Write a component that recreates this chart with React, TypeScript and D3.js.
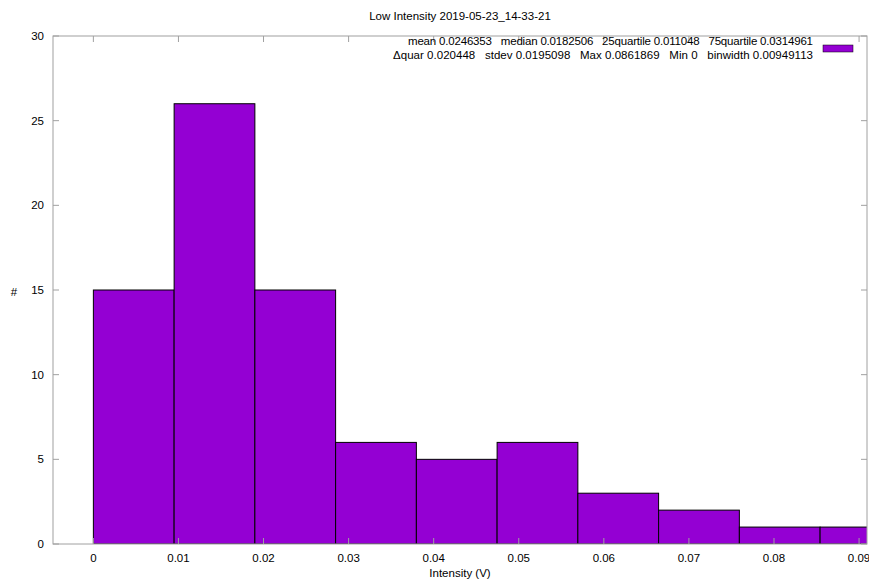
import React from "react";
import * as d3 from "d3";

const counts = [15, 26, 15, 6, 5, 6, 3, 2, 1, 1];
const binWidth = 0.00949113;
const binStart = 0;
const xTicks = [0, 0.01, 0.02, 0.03, 0.04, 0.05, 0.06, 0.07, 0.08, 0.09];
const yTicks = [0, 5, 10, 15, 20, 25, 30];
const title = "Low Intensity 2019-05-23_14-33-21";
const statsLine1 = "mean 0.0246353   median 0.0182506   25quartile 0.011048   75quartile 0.0314961";
const statsLine2 = "\u0394quar 0.020448   stdev 0.0195098   Max 0.0861869   Min 0   binwidth 0.00949113";

const W = 869;
const H = 581;
const margin = { left: 53, top: 36, right: 2, bottom: 37 };
const font = "'Liberation Sans', Arial, sans-serif";
const frameColor = "#a0a0a0";

export default function App() {
  const x0 = margin.left;
  const x1 = W - margin.right;
  const y0 = H - margin.bottom;
  const y1 = margin.top;
  const x = d3.scaleLinear().domain([-binWidth / 2, 0.0861869 + binWidth / 2]).range([x0, x1]);
  const y = d3.scaleLinear().domain([0, 30]).range([y0, y1]);
  const bins = counts.map((c, i) => ({ lo: binStart + i * binWidth, hi: binStart + (i + 1) * binWidth, c }));

  return (
    <svg width={W} height={H} style={{ position: "absolute", left: 0, top: 0, background: "#fff" }} fontFamily={font}>
      <defs>
        <clipPath id="plotclip">
          <rect x={x0} y={y1} width={x1 - x0} height={y0 - y1} />
        </clipPath>
      </defs>
      <rect width={W} height={H} fill="#fff" />
      <g clipPath="url(#plotclip)">
        {bins.map((b, i) => (
          <rect
            key={i}
            x={x(b.lo)}
            y={y(b.c)}
            width={x(b.hi) - x(b.lo)}
            height={y(0) - y(b.c)}
            fill="#9400d3"
            stroke="#000"
            strokeWidth={1}
          />
        ))}
      </g>
      {yTicks.map((t) => (
        <g key={"y" + t}>
          <line x1={x0} x2={x0 + 6} y1={y(t)} y2={y(t)} stroke={frameColor} />
          <line x1={x1} x2={x1 - 6} y1={y(t)} y2={y(t)} stroke={frameColor} />
          <text x={x0 - 9} y={y(t)} dy="0.35em" textAnchor="end" fontSize={11.5} fill="#000">
            {t}
          </text>
        </g>
      ))}
      {xTicks.map((t) => (
        <g key={"x" + t}>
          <line x1={x(t)} x2={x(t)} y1={y0} y2={y0 - 6} stroke={frameColor} />
          <line x1={x(t)} x2={x(t)} y1={y1} y2={y1 + 6} stroke={frameColor} />
          <text x={x(t)} y={y0 + 18} textAnchor="middle" fontSize={11.5} fill="#000">
            {t}
          </text>
        </g>
      ))}
      <rect x={x0} y={y1} width={x1 - x0} height={y0 - y1} fill="none" stroke={frameColor} strokeWidth={1} />
      <text x={460} y={20} textAnchor="middle" fontSize={11.5} fill="#000">
        {title}
      </text>
      <text x={460} y={577} textAnchor="middle" fontSize={11.5} fill="#000">
        Intensity (V)
      </text>
      <text x={14} y={296} textAnchor="middle" fontSize={11.5} fill="#000">
        #
      </text>
      <text x={813} y={45} textAnchor="end" fontSize={11.5} fill="#000" style={{ whiteSpace: "pre" }}
        textLength={405} lengthAdjust="spacing">
        {statsLine1}
      </text>
      <text x={813} y={59} textAnchor="end" fontSize={11.5} fill="#000" style={{ whiteSpace: "pre" }}
        textLength={420} lengthAdjust="spacing">
        {statsLine2}
      </text>
      <rect x={823} y={45} width={30} height={7} fill="#9400d3" stroke="#000" strokeWidth={0.5} />
    </svg>
  );
}
